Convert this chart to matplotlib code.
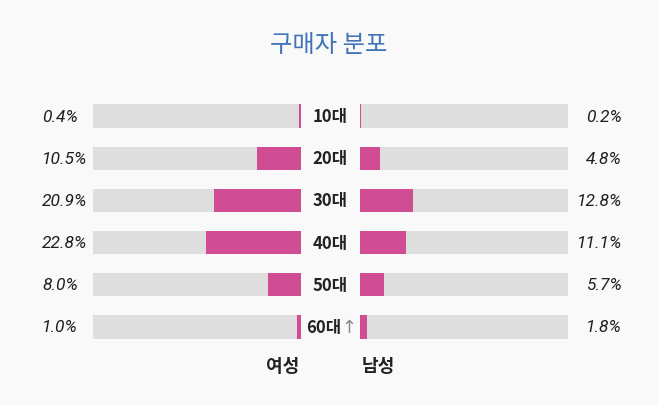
import matplotlib.pyplot as plt
from matplotlib.transforms import blended_transform_factory

# data
ages = ['10대', '20대', '30대', '40대', '50대', '60대']
female = [0.4, 10.5, 20.9, 22.8, 8.0, 1.0]
male = [0.2, 4.8, 12.8, 11.1, 5.7, 1.8]
full = 50

pink = '#d04d93'
grey = '#dedede'
bg = '#f9f9f9'

plt.rcParams['font.family'] = ['Noto Sans CJK KR', 'DejaVu Sans']
pct_font = ['Roboto', 'DejaVu Sans']

fig = plt.figure(figsize=(6.58, 4.06), dpi=100, facecolor=bg)

W, H = 658, 406
bottom = 1 - 349 / H
height = 253 / H
ax_l = fig.add_axes([93 / W, bottom, 208 / W, height])
ax_r = fig.add_axes([360 / W, bottom, 208 / W, height])

rows = list(range(len(ages)))
for ax, vals in ((ax_l, female), (ax_r, male)):
    ax.barh(rows, [full] * len(rows), height=0.55, color=grey)
    ax.barh(rows, vals, height=0.55, color=pink)
    ax.set_xlim(0, full)
    ax.set_ylim(5.5, -0.5)
    ax.axis('off')
ax_l.invert_xaxis()

tl = blended_transform_factory(ax_l.transAxes, ax_l.transData)
tr = blended_transform_factory(ax_r.transAxes, ax_r.transData)
tc = blended_transform_factory(fig.transFigure, ax_l.transData)

for i in rows:
    ax_l.text(-0.245, i, f'{female[i]:.1f}%', transform=tl, ha='left', va='center',
              fontsize=12.5, style='italic', family=pct_font, color='#1e1e1e')
    ax_r.text(1.26, i, f'{male[i]:.1f}%', transform=tr, ha='right', va='center',
              fontsize=12.5, style='italic', family=pct_font, color='#1e1e1e')
    if i < len(rows) - 1:
        fig.text(330 / W, i, ages[i], transform=tc, ha='center', va='center',
                 fontsize=12, fontweight='bold', color='#222222')
    else:
        fig.text(324 / W, i, ages[i], transform=tc, ha='center', va='center',
                 fontsize=12, fontweight='bold', color='#222222')
        fig.text(349 / W, i, '↑', transform=tc, ha='center', va='center',
                 fontsize=13, color='#8a8a8a', family=['DejaVu Sans'])

fig.text(283 / W, 1 - 367 / H, '여성', ha='center', va='center', fontsize=13,
         fontweight='bold', color='#222222')
fig.text(378 / W, 1 - 367 / H, '남성', ha='center', va='center', fontsize=13,
         fontweight='bold', color='#222222')
fig.text(329 / W, 1 - 45 / H, '구매자 분포', ha='center', va='center', fontsize=17.5,
         fontweight='light', color='#3f74b8')

fig.savefig('out.png', dpi=100, facecolor=bg)
